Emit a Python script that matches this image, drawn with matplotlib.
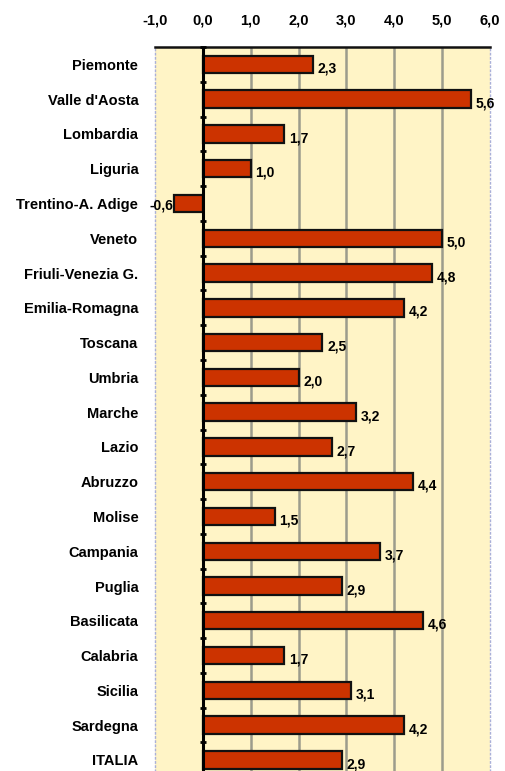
import matplotlib.pyplot as plt
from matplotlib.ticker import FuncFormatter

regioni = ['Piemonte', "Valle d'Aosta", 'Lombardia', 'Liguria', 'Trentino-A. Adige',
           'Veneto', 'Friuli-Venezia G.', 'Emilia-Romagna', 'Toscana', 'Umbria',
           'Marche', 'Lazio', 'Abruzzo', 'Molise', 'Campania', 'Puglia',
           'Basilicata', 'Calabria', 'Sicilia', 'Sardegna', 'ITALIA']
valori = [2.3, 5.6, 1.7, 1.0, -0.6, 5.0, 4.8, 4.2, 2.5, 2.0, 3.2, 2.7, 4.4,
          1.5, 3.7, 2.9, 4.6, 1.7, 3.1, 4.2, 2.9]
tacche_x = [-1, 0, 1, 2, 3, 4, 5, 6]

plt.rcParams['font.family'] = ['Liberation Sans', 'DejaVu Sans']
plt.rcParams['font.weight'] = 'bold'
FS = 10


def virgola(v, pos=None):
    return f'{v:.1f}'.replace('.', ',')


fig = plt.figure(figsize=(5.05, 7.71), dpi=100)
ax = fig.add_axes([0.307, 0.0, 0.663, 0.939])
ax.set_facecolor('#fff4c6')

pos = list(range(len(regioni)))
ax.barh(pos, valori, height=0.5, color='#cc3300', edgecolor='#111111',
        linewidth=1.6, zorder=3)

for y, v in zip(pos, valori):
    if v >= 0:
        ax.text(v + 0.1, y + 0.12, virgola(v), ha='left', va='center',
                fontsize=FS, fontweight='bold', zorder=4)
    else:
        ax.text(v - 0.02, y + 0.05, virgola(v), ha='right', va='center',
                fontsize=FS, fontweight='bold', zorder=4)

ax.set_xlim(-1, 6)
ax.set_ylim(len(regioni) - 0.68, -0.5)

ax.xaxis.tick_top()
ax.set_xticks(tacche_x)
ax.xaxis.set_major_formatter(FuncFormatter(virgola))
ax.tick_params(axis='x', length=0, pad=14, labelsize=10.5)

ax.set_yticks(pos)
ax.set_yticklabels(regioni, fontsize=10.5, fontweight='bold')
ax.tick_params(axis='y', length=0, pad=12)

# griglia verticale
for x in tacche_x[2:-1]:
    ax.axvline(x, color='#9c9c8c', linewidth=1.8, zorder=1)

# asse dello zero con piccole tacche tra le barre
ax.axvline(0, color='#000000', linewidth=2.2, zorder=5)
separatori = [p - 0.5 for p in pos] + [pos[-1] + 0.5]
ax.plot([0] * len(separatori), separatori, ls='none', marker='_',
        markersize=5, markeredgewidth=2, color='#000000', zorder=5,
        clip_on=False)

for lato in ['left', 'right']:
    ax.spines[lato].set_color('#aab0d8')
    ax.spines[lato].set_linestyle((0, (1, 2)))
    ax.spines[lato].set_linewidth(1.0)
ax.spines['bottom'].set_visible(False)
ax.spines['top'].set_color('#111111')
ax.spines['top'].set_linewidth(1.8)

plt.savefig('out.png', dpi=100)
